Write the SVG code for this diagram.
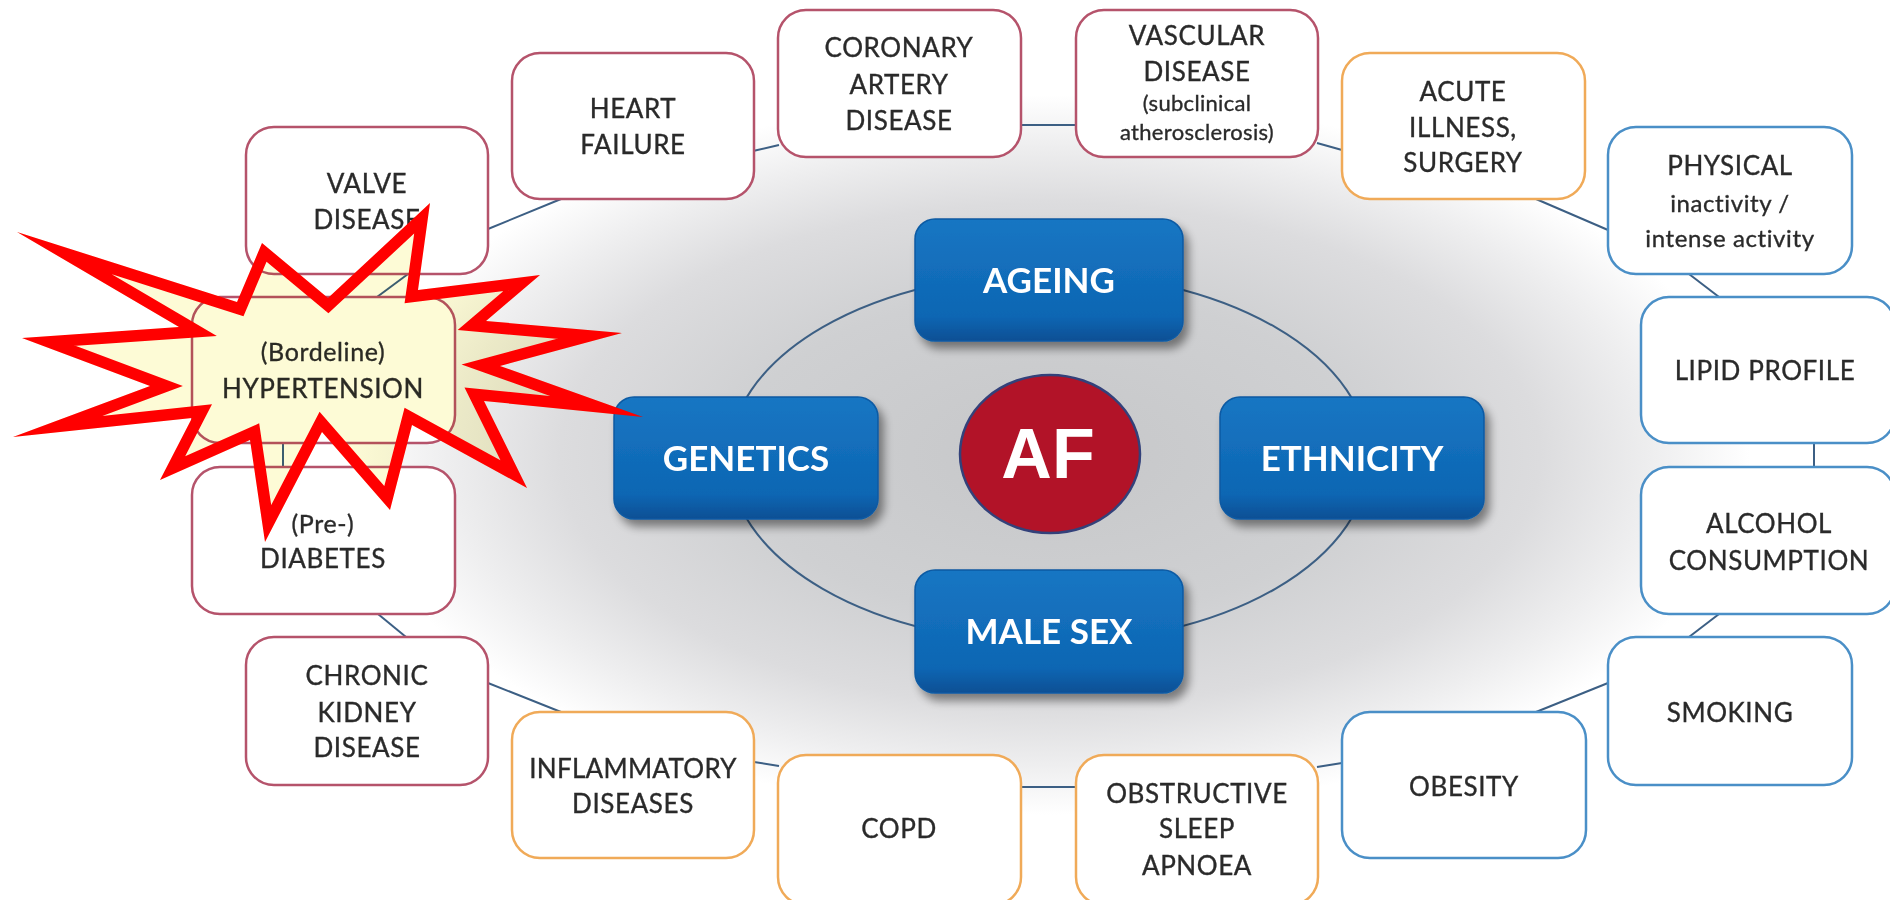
<svg xmlns="http://www.w3.org/2000/svg" width="1890" height="900" viewBox="0 0 1890 900">
  <defs>
    <radialGradient id="haze" cx="0.5" cy="0.5" r="0.5">
      <stop offset="0" stop-color="#c6c7c9"/>
      <stop offset="0.45" stop-color="#cfd0d2"/>
      <stop offset="0.7" stop-color="#dcdcde"/>
      <stop offset="0.86" stop-color="#eeeeef"/>
      <stop offset="1" stop-color="#ffffff"/>
    </radialGradient>
    <linearGradient id="blueFill" x1="0" y1="0" x2="0" y2="1">
      <stop offset="0" stop-color="#1676c3"/>
      <stop offset="0.8" stop-color="#0e66b3"/>
      <stop offset="1" stop-color="#0a4f94"/>
    </linearGradient>
    <filter id="lift" x="-15%" y="-20%" width="140%" height="160%">
      <feGaussianBlur in="SourceAlpha" stdDeviation="5"/>
      <feOffset dx="5" dy="7"/>
      <feComponentTransfer><feFuncA type="linear" slope="0.45"/></feComponentTransfer>
      <feMerge><feMergeNode/><feMergeNode in="SourceGraphic"/></feMerge>
    </filter>
    <polygon id="burstShape" points="17,232 237,302 262,243 328,298 430,203 418,290 540,275 486,321 622,333 500,366 643,417 484,401 527,488 412,425 390,510 322,432 265,542 250,440 160,480 192,418 13,437 150,386 22,338 179,327"/>
    <clipPath id="burstClip"><use href="#burstShape"/></clipPath>
    <style>
      .box rect { fill: #ffffff; stroke-width: 2.5; }
      .red rect { stroke: #b5536b; }
      .org rect { stroke: #f0aa58; }
      .blu rect { stroke: #4a8fc7; }
      .t { font-family: Lato, "Liberation Sans", sans-serif; font-size: 26px; letter-spacing: 0.6px; fill: #2a2a2a; stroke: #2a2a2a; stroke-width: 0.35px; text-anchor: middle; }
      .s { font-size: 24px; letter-spacing: 0.6px; }
      .xs { font-size: 22px; letter-spacing: 0.3px; }
      .core rect { fill: url(#blueFill); stroke: #0b5aa3; stroke-width: 1.5; }
      .core text { font-family: Lato, "Liberation Sans", sans-serif; font-weight: 700; font-size: 35px; fill: #ffffff; text-anchor: middle; }
      .link { stroke: #3c5f84; stroke-width: 2; fill: none; }
    </style>
  </defs>

  <!-- backdrop -->
  <rect width="1890" height="900" fill="#ffffff"/>
  <ellipse cx="1050" cy="455" rx="700" ry="360" fill="url(#haze)"/>

  <!-- connectors -->
  <g id="connectors">
    <ellipse class="link" cx="1049" cy="458" rx="320" ry="185"/>
    <line class="link" x1="488" y1="229" x2="561" y2="199"/>
    <line class="link" x1="753" y1="151" x2="779" y2="145"/>
    <line class="link" x1="1021" y1="125" x2="1076" y2="125"/>
    <line class="link" x1="1317" y1="143" x2="1342" y2="150"/>
    <line class="link" x1="1536" y1="199" x2="1608" y2="230"/>
    <line class="link" x1="1689" y1="274" x2="1719" y2="297"/>
    <line class="link" x1="1814" y1="443" x2="1814" y2="467"/>
    <line class="link" x1="1719" y1="614" x2="1689" y2="637"/>
    <line class="link" x1="1608" y1="683" x2="1536" y2="712"/>
    <line class="link" x1="1342" y1="763" x2="1317" y2="767"/>
    <line class="link" x1="1021" y1="787" x2="1076" y2="787"/>
    <line class="link" x1="779" y1="766" x2="754" y2="762"/>
    <line class="link" x1="561" y1="712" x2="488" y2="683"/>
    <line class="link" x1="406" y1="637" x2="378" y2="614"/>
    <line class="link" x1="283" y1="443" x2="283" y2="467"/>
    <line class="link" x1="408" y1="274" x2="377" y2="297"/>
  </g>

  <!-- outer ring of risk factors -->
  <g id="valve" class="box red">
    <rect x="246" y="127" width="242" height="147" rx="28"/>
    <text class="t" x="367" y="193">VALVE</text>
    <text class="t" x="367" y="229">DISEASE</text>
  </g>
  <g id="heart-failure" class="box red">
    <rect x="512" y="53" width="242" height="146" rx="28"/>
    <text class="t" x="633" y="118">HEART</text>
    <text class="t" x="633" y="154">FAILURE</text>
  </g>
  <g id="coronary" class="box red">
    <rect x="778" y="10" width="243" height="147" rx="28"/>
    <text class="t" x="899" y="57">CORONARY</text>
    <text class="t" x="899" y="94">ARTERY</text>
    <text class="t" x="899" y="130">DISEASE</text>
  </g>
  <g id="vascular" class="box red">
    <rect x="1076" y="10" width="242" height="147" rx="28"/>
    <text class="t" x="1197" y="45">VASCULAR</text>
    <text class="t" x="1197" y="81">DISEASE</text>
    <text class="t xs" x="1197" y="111">(subclinical</text>
    <text class="t xs" x="1197" y="140">atherosclerosis)</text>
  </g>
  <g id="acute" class="box org">
    <rect x="1342" y="53" width="243" height="146" rx="28"/>
    <text class="t" x="1463" y="101">ACUTE</text>
    <text class="t" x="1463" y="137">ILLNESS,</text>
    <text class="t" x="1463" y="172">SURGERY</text>
  </g>
  <g id="physical" class="box blu">
    <rect x="1608" y="127" width="244" height="147" rx="28"/>
    <text class="t" x="1730" y="175">PHYSICAL</text>
    <text class="t s" x="1730" y="212">inactivity /</text>
    <text class="t s" x="1730" y="247">intense activity</text>
  </g>
  <g id="lipid" class="box blu">
    <rect x="1641" y="297" width="254" height="146" rx="28"/>
    <text class="t" x="1765" y="380">LIPID PROFILE</text>
  </g>
  <g id="alcohol" class="box blu">
    <rect x="1641" y="467" width="254" height="147" rx="28"/>
    <text class="t" x="1769" y="533">ALCOHOL</text>
    <text class="t" x="1769" y="570">CONSUMPTION</text>
  </g>
  <g id="smoking" class="box blu">
    <rect x="1608" y="637" width="244" height="148" rx="28"/>
    <text class="t" x="1730" y="722">SMOKING</text>
  </g>
  <g id="obesity" class="box blu">
    <rect x="1342" y="712" width="244" height="146" rx="28"/>
    <text class="t" x="1464" y="796">OBESITY</text>
  </g>
  <g id="sleep-apnoea" class="box org">
    <rect x="1076" y="755" width="242" height="150" rx="28"/>
    <text class="t" x="1197" y="803">OBSTRUCTIVE</text>
    <text class="t" x="1197" y="838">SLEEP</text>
    <text class="t" x="1197" y="875">APNOEA</text>
  </g>
  <g id="copd" class="box org">
    <rect x="778" y="755" width="243" height="150" rx="28"/>
    <text class="t" x="899" y="838">COPD</text>
  </g>
  <g id="inflammatory" class="box org">
    <rect x="512" y="712" width="242" height="146" rx="28"/>
    <text class="t" x="633" y="778" style="letter-spacing:0.3px">INFLAMMATORY</text>
    <text class="t" x="633" y="813">DISEASES</text>
  </g>
  <g id="kidney" class="box red">
    <rect x="246" y="637" width="242" height="148" rx="28"/>
    <text class="t" x="367" y="685">CHRONIC</text>
    <text class="t" x="367" y="722">KIDNEY</text>
    <text class="t" x="367" y="757">DISEASE</text>
  </g>
  <g id="diabetes" class="box red">
    <rect x="192" y="467" width="263" height="147" rx="28"/>
    <text class="t" x="323" y="533" style="font-size:25px">(Pre-)</text>
    <text class="t" x="323" y="568">DIABETES</text>
  </g>
  <g id="hypertension" class="box red">
    <rect x="192" y="297" width="263" height="146" rx="28"/>
    <text class="t" x="323" y="361" style="font-size:25px">(Bordeline)</text>
    <text class="t" x="323" y="398">HYPERTENSION</text>
  </g>

  <!-- core factors -->
  <g id="ageing" class="core" filter="url(#lift)">
    <rect x="915" y="219" width="268" height="122" rx="20"/>
    <text x="1049" y="293">AGEING</text>
  </g>
  <g id="genetics" class="core" filter="url(#lift)">
    <rect x="614" y="397" width="264" height="122" rx="20"/>
    <text x="746" y="471">GENETICS</text>
  </g>
  <g id="ethnicity" class="core" filter="url(#lift)">
    <rect x="1220" y="397" width="264" height="122" rx="20"/>
    <text x="1352" y="471">ETHNICITY</text>
  </g>
  <g id="male-sex" class="core" filter="url(#lift)">
    <rect x="915" y="570" width="268" height="123" rx="20"/>
    <text x="1049" y="644">MALE SEX</text>
  </g>
  <g id="af">
    <ellipse cx="1050" cy="454" rx="90" ry="79" fill="#b21328" stroke="#33417a" stroke-width="2.5"/>
    <text x="1048" y="478" font-family="Liberation Sans, Arial, sans-serif" font-weight="700" font-size="70" fill="#ffffff" text-anchor="middle">AF</text>
  </g>

  <!-- highlight burst over hypertension: tinted fill, red rim kept inside the outline -->
  <g id="burst">
    <use href="#burstShape" fill="#fdfbd6" style="mix-blend-mode: multiply"/>
    <use href="#burstShape" fill="none" stroke="#ff0000" stroke-width="23" stroke-linejoin="miter" stroke-miterlimit="20" clip-path="url(#burstClip)"/>
  </g>
</svg>
